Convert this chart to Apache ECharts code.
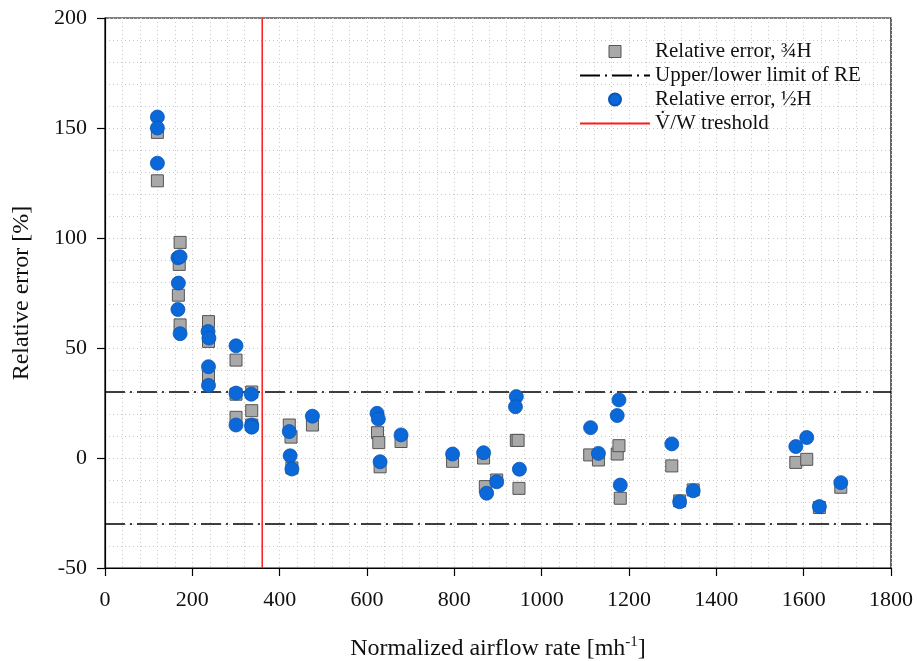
<!DOCTYPE html>
<html>
<head>
<meta charset="utf-8">
<script src="https://cdn.jsdelivr.net/npm/echarts@6/dist/echarts.min.js"></script>
<style>
  html, body { margin: 0; padding: 0; background: #fff; }
  #chart { width: 917px; height: 661px; }
</style>
</head>
<body>
<div id="chart"></div>
<script>
// relative error at 3/4 H (grey squares), [airflow, error]
var errThreeQuarter = [
  [120, 148], [120, 126],
  [172, 98], [170, 88], [168, 74], [172, 60.5],
  [237, 62], [237, 53], [237, 37],
  [300, 44.5], [300, 29], [300, 18.5],
  [336, 30], [336, 21.5], [336, 15],
  [422, 15], [426, 9.5], [428, -4.5],
  [475, 15],
  [624, 11.5], [627, 7], [630, -4],
  [678, 7.5],
  [796, -1.5],
  [867, 0], [871, -13], [897, -10],
  [942, 8], [946, 8], [948, -13.8],
  [1110, 1.4], [1130, -0.9],
  [1173, 1.8], [1177, 5.6], [1180, -18.3],
  [1298, -3.6], [1316, -19.5], [1347, -14.5],
  [1582, -2], [1607, -0.6], [1636, -22.5], [1685, -13.3]
];
// relative error at 1/2 H (blue circles)
var errHalf = [
  [120, 155], [120, 150], [120, 134],
  [167, 91], [172, 91.5], [168, 79.5], [167, 67.5], [172, 56.5],
  [236, 57.5], [238, 54.5], [237, 41.5], [237, 33],
  [300, 51], [300, 29.5], [300, 15],
  [335, 29], [336, 15], [336, 14],
  [422, 12], [424, 1], [428, -5],
  [475, 19],
  [623, 20.3], [626, 17.7], [630, -1.7],
  [678, 10.5],
  [796, 1.8],
  [867, 2.4], [874, -16], [897, -10.8],
  [942, 27.9], [940, 23.3], [949, -5.1],
  [1112, 13.8], [1130, 2.1],
  [1173, 19.3], [1177, 26.4], [1180, -12.3],
  [1298, 6.4], [1316, -19.9], [1347, -14.9],
  [1582, 5.2], [1607, 9.3], [1636, -22.1], [1685, -11.2]
];
var upperLimit = [[0, 30], [1800, 30]];
var lowerLimit = [[0, -30], [1800, -30]];
var threshold = [[360, -50], [360, 200]];

var serif = 'Liberation Serif';
var chart = echarts.init(document.getElementById('chart'));

var dotted = { color: '#c8c8c8', type: [1, 3], width: 1 };
var plain = function (v) { return String(v); };

chart.setOption({
  animation: false,
  textStyle: { fontFamily: serif },
  grid: {
    left: 105, right: 26, top: 18, bottom: 93,
    outerBoundsMode: 'none', containLabel: false,
    show: true, borderColor: '#000', borderWidth: 1.2, backgroundColor: 'transparent'
  },
  legend: {
    left: 574, top: 36, orient: 'vertical',
    itemWidth: 70, itemHeight: 12, itemGap: 3,
    textStyle: { fontFamily: serif, fontSize: 21, color: '#111' },
    data: [
      { name: 'Relative error, ¾H', icon: 'path://M0,0H10V10H0Z',
        itemStyle: { color: '#a9a9a9', borderColor: '#555', borderWidth: 1 } },
      { name: 'Upper/lower limit of RE', itemStyle: { opacity: 0 } },
      { name: 'Relative error, ½H', icon: 'circle' },
      { name: 'V\u0307/W treshold', itemStyle: { opacity: 0 } }
    ]
  },
  xAxis: {
    type: 'value', min: 0, max: 1800, interval: 200,
    name: 'Normalized airflow rate [mh{sup|-1}]',
    nameLocation: 'middle', nameGap: 67,
    nameTextStyle: {
      fontFamily: serif, fontSize: 24, color: '#111',
      rich: { sup: { fontFamily: serif, fontSize: 15, verticalAlign: 'top', padding: [0, 0, 12, 0] } }
    },
    axisLine: { onZero: false, lineStyle: { color: '#000', width: 1.2 } },
    axisTick: { show: true, length: 8, inside: false, lineStyle: { color: '#000', width: 1.2 } },
    axisLabel: { fontFamily: serif, fontSize: 22, color: '#111', margin: 21, formatter: plain },
    splitLine: { show: true, lineStyle: dotted },
    minorTick: { show: true, splitNumber: 5, length: 0 },
    minorSplitLine: { show: true, lineStyle: dotted }
  },
  yAxis: {
    type: 'value', min: -50, max: 200, interval: 50,
    name: 'Relative error [%]',
    nameLocation: 'middle', nameGap: 71,
    nameTextStyle: { fontFamily: serif, fontSize: 24, color: '#111' },
    axisLine: { onZero: false, lineStyle: { color: '#000', width: 1.2 } },
    axisTick: { show: true, length: 8, inside: false, lineStyle: { color: '#000', width: 1.2 } },
    axisLabel: { fontFamily: serif, fontSize: 22, color: '#111', margin: 18, formatter: plain },
    splitLine: { show: true, lineStyle: dotted },
    minorTick: { show: true, splitNumber: 5, length: 0 },
    minorSplitLine: { show: true, lineStyle: dotted }
  },
  series: [
    {
      name: 'Relative error, ¾H', type: 'scatter', data: errThreeQuarter,
      symbol: 'rect', symbolSize: 12, z: 3,
      itemStyle: { color: '#a9a9a9', borderColor: '#555', borderWidth: 1, opacity: 1 }
    },
    {
      name: 'Upper/lower limit of RE', type: 'line', data: upperLimit,
      symbol: 'none', z: 2, color: '#000',
      lineStyle: { color: '#000', width: 1.5, type: [20, 5, 2, 5] }
    },
    {
      name: 'Upper/lower limit of RE', type: 'line', data: lowerLimit,
      symbol: 'none', z: 2, color: '#000',
      lineStyle: { color: '#000', width: 1.5, type: [20, 5, 2, 5] }
    },
    {
      name: 'Relative error, ½H', type: 'scatter', data: errHalf,
      symbol: 'circle', symbolSize: 14, z: 4,
      itemStyle: { color: '#0b68d9', borderColor: '#0a55b5', borderWidth: 0.8, opacity: 1 }
    },
    {
      name: 'V\u0307/W treshold', type: 'line', data: threshold,
      symbol: 'none', z: 2, color: '#ff1a1a',
      lineStyle: { color: '#ff1a1a', width: 1.5 }
    }
  ]
});
</script>
</body>
</html>
